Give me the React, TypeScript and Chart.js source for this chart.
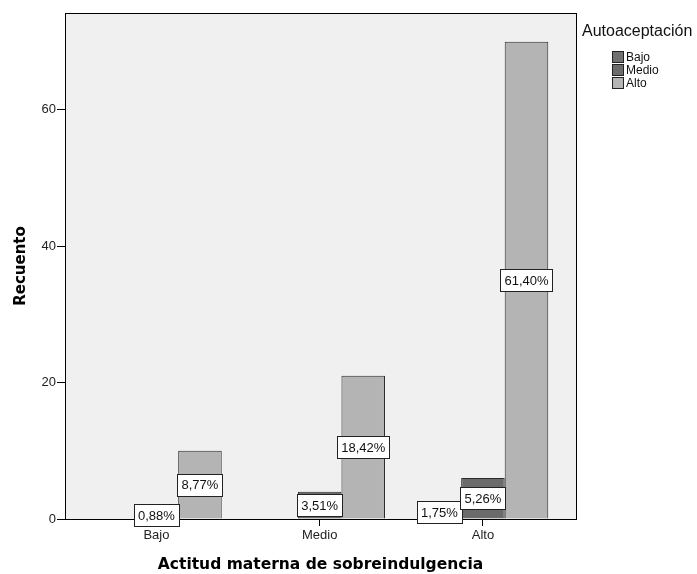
import React, { useEffect, useRef } from 'react';
import { Chart, registerables } from 'chart.js';

Chart.register(...registerables);

const categories = ['Bajo', 'Medio', 'Alto'];
const seriesNames = ['Bajo', 'Medio', 'Alto'];
const bajoValues = [0, 0, 2];
const medioValues = [1, 4, 6];
const altoValues = [10, 21, 70];
const seriesColors = ['#707070', '#6b6b6b', '#b4b4b4'];
const yTickValues = [0, 20, 40, 60];
const yMax = 74.2;
const legendTitle = 'Autoaceptación';
const xTitle = 'Actitud materna de sobreindulgencia';
const yTitle = 'Recuento';

const FONT = "'Liberation Sans', Arial, sans-serif";
const TITLE_FONT = "'DejaVu Sans', Verdana, sans-serif";

export default function App() {
  const ref = useRef<HTMLCanvasElement | null>(null);

  useEffect(() => {
    const canvas = ref.current;
    if (!canvas) return;
    const allSeries = [bajoValues, medioValues, altoValues];
    const total = allSeries.reduce((s, arr) => s + arr.reduce((a, b) => a + b, 0), 0);

    const framePlugin = {
      id: 'spssFrame',
      beforeDraw(chart: any) {
        const { ctx, chartArea: a } = chart;
        ctx.save();
        ctx.fillStyle = '#f0f0f0';
        ctx.fillRect(a.left, a.top, a.right - a.left, a.bottom - a.top);
        ctx.restore();
      },
      afterDatasetsDraw(chart: any) {
        const { ctx, chartArea: a } = chart;
        ctx.save();
        ctx.strokeStyle = '#000';
        ctx.lineWidth = 1;
        ctx.strokeRect(Math.round(a.left) + 0.5, Math.round(a.top) + 0.5, Math.round(a.right - a.left), Math.round(a.bottom - a.top));

        // value labels
        ctx.font = `13px ${FONT}`;
        ctx.textAlign = 'center';
        ctx.textBaseline = 'middle';
        chart.data.datasets.forEach((ds: any, di: number) => {
          const meta = chart.getDatasetMeta(di);
          meta.data.forEach((el: any, i: number) => {
            const v = ds.data[i].y;
            if (!v) return;
            const text = ((v / total) * 100).toFixed(2).replace('.', ',') + '%';
            const cx = el.x;
            const cy = (el.y + el.base) / 2;
            const tw = ctx.measureText(text).width;
            const w = Math.round(tw + 8);
            const h = 22;
            const x0 = Math.round(cx - w / 2) + 0.5;
            const y0 = Math.round(cy - h / 2) + 0.5;
            ctx.fillStyle = '#fff';
            ctx.fillRect(x0, y0, w, h);
            ctx.strokeStyle = '#222';
            ctx.strokeRect(x0, y0, w, h);
            ctx.fillStyle = '#111';
            ctx.fillText(text, cx, cy + 1);
          });
        });

        // legend
        ctx.textAlign = 'left';
        ctx.textBaseline = 'middle';
        ctx.fillStyle = '#111';
        ctx.font = `16px ${FONT}`;
        ctx.fillText(legendTitle, 582, 32);
        ctx.font = `12px ${FONT}`;
        chart.data.datasets.forEach((ds: any, di: number) => {
          const yc = 57 + di * 13;
          ctx.fillStyle = ds.backgroundColor;
          ctx.fillRect(612.5, yc - 5.5, 11, 11);
          ctx.strokeStyle = '#222';
          ctx.strokeRect(612.5, yc - 5.5, 11, 11);
          ctx.fillStyle = '#111';
          ctx.fillText(ds.label, 626, yc + 0.5);
        });
        ctx.restore();
      },
    };

    const chart = new Chart(canvas, {
      type: 'bar',
      data: {
        datasets: allSeries.map((vals, si) => ({
          label: seriesNames[si],
          data: vals.map((v, i) => ({ x: i, y: v })),
          backgroundColor: seriesColors[si],
          borderColor: '#2a2a2a',
          borderWidth: 1,
          borderSkipped: 'bottom',
          categoryPercentage: 0.8,
          barPercentage: 1,
        })),
      },
      options: {
        animation: false,
        responsive: false,
        maintainAspectRatio: false,
        events: [],
        layout: { padding: { left: 0, right: 121, top: 13, bottom: 0 } },
        plugins: {
          legend: { display: false },
          tooltip: { enabled: false },
          title: { display: false },
        },
        scales: {
          x: {
            type: 'linear',
            offset: false,
            min: -0.56,
            max: 2.57,
            afterBuildTicks: (scale: any) => {
              scale.ticks = categories.map((_, i) => ({ value: i }));
            },
            afterFit: (scale: any) => {
              scale.height = 55;
            },
            ticks: {
              callback: (v: any) => categories[v as number] ?? '',
              font: { family: FONT, size: 13 },
              color: '#222',
              padding: 2,
              maxRotation: 0,
              autoSkip: false,
            },
            grid: { offset: false, drawOnChartArea: false, tickLength: 7, color: '#000', drawTicks: true },
            border: { display: true, color: '#000' },
            title: {
              display: true,
              text: xTitle,
              font: { family: TITLE_FONT, size: 15.5, weight: 'bold' },
              color: '#000',
              padding: { top: 0, bottom: 0 },
            },
          },
          y: {
            type: 'linear',
            min: 0,
            max: yMax,
            afterBuildTicks: (scale: any) => {
              scale.ticks = yTickValues.map((v) => ({ value: v }));
            },
            afterFit: (scale: any) => {
              scale.width = 65;
            },
            ticks: {
              font: { family: FONT, size: 13 },
              color: '#222',
              padding: 1,
            },
            grid: { drawOnChartArea: false, tickLength: 8, color: '#000' },
            border: { display: true, color: '#000' },
            title: {
              display: true,
              text: yTitle,
              font: { family: TITLE_FONT, size: 15, weight: 'bold' },
              color: '#000',
              padding: { top: 12, bottom: 0 },
            },
          },
        },
      },
      plugins: [framePlugin],
    } as any);

    return () => chart.destroy();
  }, []);

  return (
    <div style={{ position: 'absolute', left: 0, top: 0, width: 697, height: 574, background: '#fff' }}>
      <canvas ref={ref} width={697} height={574} style={{ display: 'block', width: 697, height: 574 }} />
    </div>
  );
}
